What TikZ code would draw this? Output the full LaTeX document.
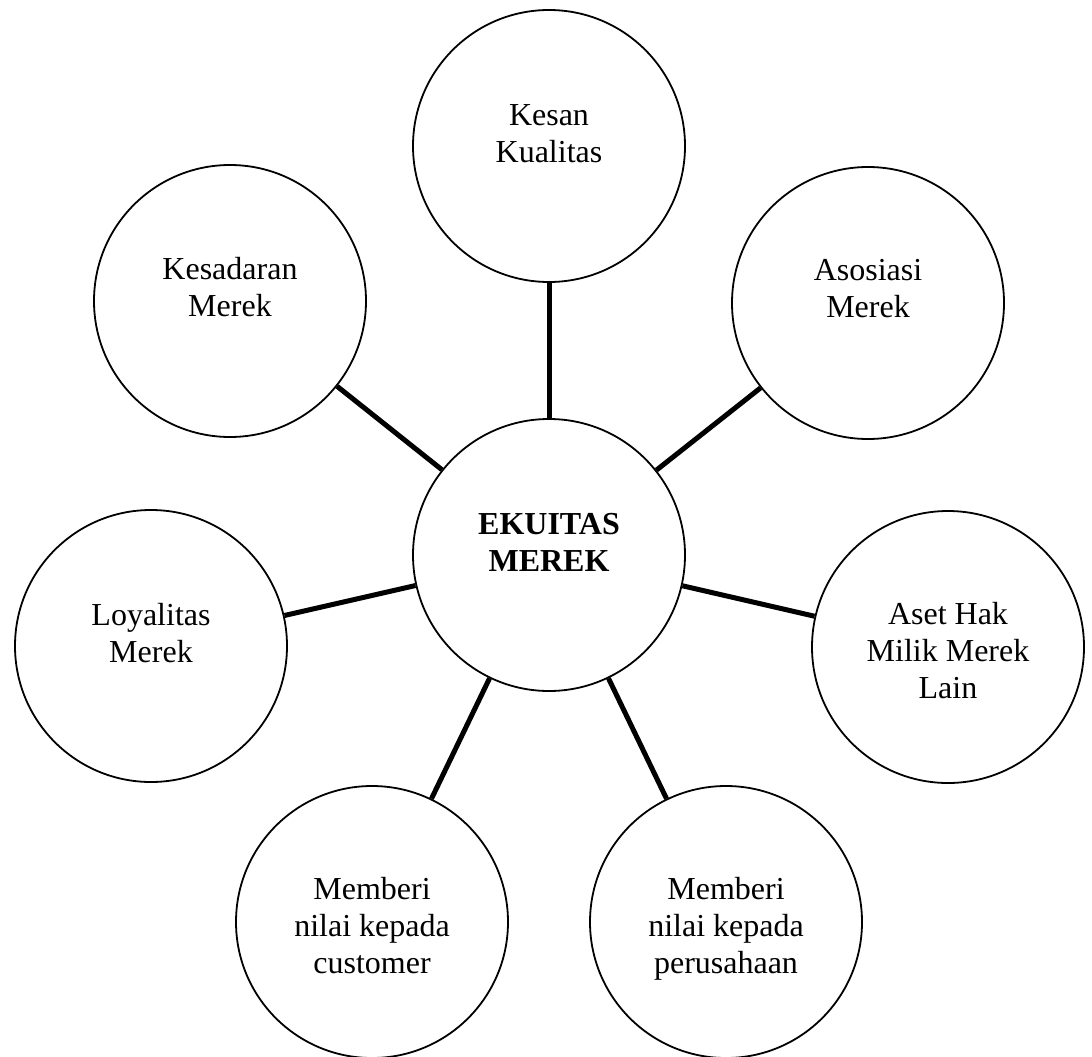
\documentclass[tikz,border=0pt]{standalone}
\usepackage{fontspec}
\setmainfont{Liberation Serif}
\begin{document}
\begin{tikzpicture}[x=1pt,y=-1pt,
  circ/.style={circle,draw=black,line width=1.8pt,minimum size=272pt,inner sep=0pt,fill=white},
  lbl/.style={anchor=base,align=center,inner sep=0pt,font=\fontsize{32}{37}\selectfont},
  conn/.style={line width=5pt}]
\useasboundingbox[fill=white] (0,0) rectangle (1092,1057);
\node[circ] (kesan) at (549,146) {};
\node[circ] (kesadaran) at (230,301) {};
\node[circ] (asosiasi) at (868,303) {};
\node[circ] (ekuitas) at (549,555) {};
\node[circ] (loyal) at (151,646) {};
\node[circ] (aset) at (948,647) {};
\node[circ] (cust) at (372,922) {};
\node[circ] (perus) at (726,922) {};
\foreach \n in {kesan,kesadaran,asosiasi,loyal,aset,cust,perus}
  \draw[conn] (ekuitas) -- (\n);
\node[lbl] (tkesan) at ([yshift=-16pt]kesan.center) {Kesan\\Kualitas};
\node[lbl] (tkesadaran) at ([yshift=-15pt]kesadaran.center) {Kesadaran\\Merek};
\node[lbl] (tasosiasi) at ([yshift=-14pt]asosiasi.center) {Asosiasi\\Merek};
\node[lbl,font=\fontsize{32}{37}\selectfont\bfseries] (tekuitas) at ([yshift=-16pt]ekuitas.center) {EKUITAS\\MEREK};
\node[lbl] (tloyal) at ([yshift=-16pt]loyal.center) {Loyalitas\\Merek};
\node[lbl] (taset) at ([yshift=-51pt]aset.center) {Aset Hak\\Milik Merek\\Lain};
\node[lbl] (tcust) at ([yshift=-51pt]cust.center) {Memberi\\nilai kepada\\customer};
\node[lbl] (tperus) at ([yshift=-51pt]perus.center) {Memberi\\nilai kepada\\perusahaan};
\end{tikzpicture}
\end{document}
